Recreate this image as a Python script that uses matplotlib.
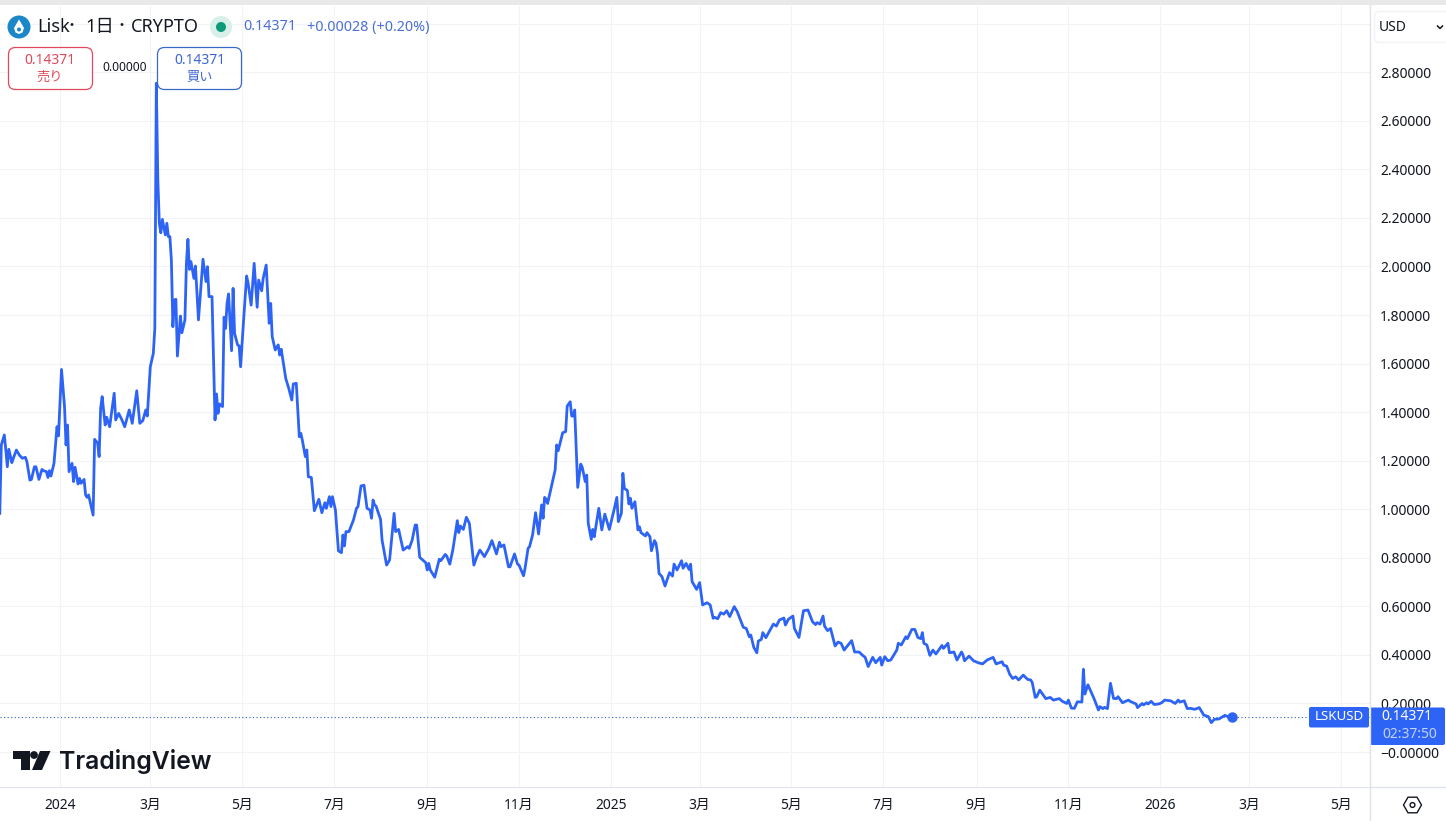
import matplotlib
matplotlib.use("Agg")
import matplotlib.pyplot as plt
from matplotlib.patches import Circle, FancyBboxPatch, Polygon, Rectangle, RegularPolygon

plt.rcParams["font.family"] = ["Noto Sans", "Noto Sans CJK JP", "DejaVu Sans"]

# days since 2024-01-01
days = [-40, -39, -37, -36, -35, -34, -32, -31, -29, -27, -25, -23, -22, -20, -19, -17, -16, -14, -12, -11,
        -9, -8, -7, -6, -4, -2, -1, 1, 3, 4, 5, 6, 8, 9, 10, 12, 13, 14, 16, 17,
        18, 19, 22, 23, 25, 26, 27, 28, 30, 31, 33, 36, 37, 39, 41, 43, 46, 48, 51, 53,
        55, 57, 58, 60, 62, 63, 64, 65, 66, 67, 68, 70, 71, 72, 73, 74, 75, 76, 77, 78,
        80, 81, 83, 84, 85, 86, 87, 89, 90, 92, 95, 97, 98, 99, 101, 103, 104, 105, 106, 108,
        109, 110, 111, 112, 114, 115, 116, 118, 119, 120, 122, 124, 125, 127, 129, 131, 132, 134, 135, 137,
        139, 140, 141, 143, 145, 146, 147, 150, 152, 154, 155, 157, 159, 160, 161, 163, 164, 165, 167, 169,
        172, 174, 176, 177, 179, 180, 181, 183, 185, 187, 188, 189, 190, 192, 195, 197, 198, 200, 202, 204,
        206, 207, 208, 209, 210, 213, 214, 217, 219, 222, 223, 225, 228, 231, 232, 234, 236, 237, 239, 243,
        244, 245, 246, 249, 252, 253, 256, 257, 259, 261, 264, 265, 266, 268, 270, 272, 275, 277, 279, 282,
        285, 287, 290, 292, 293, 295, 298, 299, 302, 304, 305, 308, 309, 311, 312, 314, 316, 318, 320, 321,
        322, 323, 324, 329, 330, 331, 334, 336, 337, 339, 340, 341, 342, 344, 346, 347, 349, 350, 351, 353,
        354, 355, 358, 360, 362, 365, 368, 370, 371, 373, 374, 375, 377, 378, 379, 380, 382, 384, 385, 386,
        389, 390, 392, 393, 395, 396, 397, 398, 400, 402, 405, 407, 408, 410, 413, 414, 416, 418, 419, 420,
        423, 425, 427, 430, 432, 434, 435, 437, 439, 441, 443, 445, 448, 450, 454, 456, 458, 459, 461, 463,
        464, 466, 467, 469, 473, 474, 476, 478, 481, 482, 484, 487, 488, 491, 494, 497, 500, 502, 503, 505,
        507, 508, 510, 512, 515, 517, 519, 521, 526, 528, 531, 533, 535, 537, 540, 542, 545, 546, 548, 550,
        552, 556, 557, 559, 562, 563, 566, 568, 570, 572, 573, 574, 576, 578, 580, 582, 586, 587, 590, 591,
        594, 596, 599, 600, 601, 604, 607, 610, 613, 616, 620, 622, 626, 627, 629, 631, 633, 635, 637, 640,
        643, 645, 646, 648, 649, 651, 655, 658, 660, 664, 666, 669, 670, 672, 674, 676, 679, 680, 681, 683,
        685, 687, 690, 691, 693, 694, 696, 698, 700, 702, 703, 706, 708, 710, 711, 715, 716, 719, 720, 722,
        723, 725, 727, 730, 732, 734, 738, 741, 743, 744, 747, 749, 751, 754, 757, 760, 763, 765, 767, 770,
        774, 776, 779]

prices = [0.983, 1.265, 1.306, 1.244, 1.175, 1.247, 1.192, 1.210, 1.244, 1.223, 1.210, 1.214, 1.196, 1.120, 1.123, 1.175, 1.175, 1.123, 1.164, 1.159,
          1.155, 1.131, 1.159, 1.137, 1.189, 1.340, 1.302, 1.576, 1.423, 1.265, 1.347, 1.155, 1.189, 1.114, 1.173, 1.104, 1.127, 1.107, 1.123, 1.059,
          1.049, 1.059, 0.976, 1.288, 1.272, 1.217, 1.416, 1.464, 1.347, 1.379, 1.340, 1.478, 1.368, 1.395, 1.370, 1.340, 1.409, 1.354, 1.488, 1.354,
          1.365, 1.409, 1.384, 1.587, 1.642, 1.745, 2.755, 2.356, 2.178, 2.139, 2.194, 2.130, 2.178, 2.123, 2.123, 2.027, 1.752, 1.862, 1.865, 1.631,
          1.796, 1.727, 1.780, 2.013, 2.112, 1.988, 2.020, 1.951, 2.002, 1.780, 2.030, 1.938, 1.999, 1.876, 1.876, 1.368, 1.475, 1.395, 1.434, 1.423,
          1.791, 1.745, 1.848, 1.887, 1.653, 1.910, 1.725, 1.677, 1.673, 1.587, 1.780, 1.961, 1.931, 1.841, 2.013, 1.832, 1.944, 1.900, 1.951, 2.006,
          1.766, 1.848, 1.711, 1.656, 1.677, 1.635, 1.659, 1.539, 1.498, 1.450, 1.516, 1.519, 1.299, 1.313, 1.285, 1.217, 1.244, 1.134, 1.131, 0.994,
          1.041, 0.986, 1.027, 1.004, 1.052, 1.011, 1.052, 0.997, 0.829, 0.821, 0.894, 0.849, 0.908, 0.908, 0.956, 1.004, 1.011, 1.096, 1.099, 1.004,
          0.997, 0.963, 1.038, 1.018, 1.013, 0.958, 0.873, 0.770, 0.791, 0.983, 0.908, 0.917, 0.832, 0.846, 0.839, 0.873, 0.935, 0.935, 0.802, 0.780,
          0.750, 0.777, 0.750, 0.720, 0.794, 0.788, 0.814, 0.807, 0.774, 0.832, 0.953, 0.904, 0.931, 0.917, 0.967, 0.942, 0.770, 0.805, 0.832, 0.805,
          0.839, 0.871, 0.816, 0.864, 0.846, 0.853, 0.763, 0.763, 0.816, 0.774, 0.770, 0.726, 0.757, 0.839, 0.846, 0.894, 0.986, 0.898, 1.018, 0.963,
          1.049, 1.041, 1.024, 1.162, 1.265, 1.241, 1.315, 1.320, 1.425, 1.443, 1.384, 1.384, 1.409, 1.090, 1.186, 1.173, 1.114, 1.141, 0.942, 0.876,
          0.917, 0.887, 1.004, 0.915, 0.980, 0.917, 0.994, 1.049, 0.949, 0.983, 1.148, 1.086, 1.077, 1.022, 1.045, 1.004, 1.031, 0.915, 0.928, 0.904,
          0.890, 0.904, 0.887, 0.829, 0.871, 0.860, 0.818, 0.736, 0.722, 0.684, 0.739, 0.725, 0.774, 0.750, 0.788, 0.757, 0.777, 0.752, 0.774, 0.702,
          0.670, 0.698, 0.606, 0.615, 0.606, 0.551, 0.555, 0.549, 0.574, 0.568, 0.582, 0.558, 0.599, 0.578, 0.514, 0.509, 0.475, 0.482, 0.431, 0.409,
          0.457, 0.464, 0.492, 0.471, 0.516, 0.527, 0.519, 0.544, 0.552, 0.523, 0.547, 0.560, 0.509, 0.472, 0.582, 0.585, 0.537, 0.525, 0.533, 0.527,
          0.560, 0.519, 0.500, 0.509, 0.437, 0.453, 0.448, 0.420, 0.459, 0.412, 0.412, 0.400, 0.390, 0.352, 0.390, 0.368, 0.390, 0.358, 0.393, 0.376,
          0.379, 0.420, 0.448, 0.441, 0.475, 0.467, 0.505, 0.505, 0.472, 0.467, 0.492, 0.448, 0.441, 0.398, 0.420, 0.404, 0.439, 0.427, 0.448, 0.409,
          0.412, 0.379, 0.412, 0.400, 0.376, 0.395, 0.376, 0.368, 0.363, 0.379, 0.390, 0.363, 0.372, 0.358, 0.354, 0.321, 0.303, 0.310, 0.297, 0.317,
          0.299, 0.297, 0.286, 0.225, 0.228, 0.255, 0.220, 0.225, 0.214, 0.220, 0.209, 0.200, 0.214, 0.181, 0.180, 0.207, 0.206, 0.341, 0.239, 0.277,
          0.249, 0.221, 0.173, 0.187, 0.179, 0.184, 0.179, 0.283, 0.221, 0.220, 0.228, 0.203, 0.209, 0.214, 0.209, 0.198, 0.183, 0.200, 0.194, 0.203,
          0.198, 0.209, 0.196, 0.198, 0.203, 0.214, 0.211, 0.200, 0.214, 0.206, 0.211, 0.179, 0.180, 0.176, 0.183, 0.152, 0.146, 0.121, 0.135, 0.136,
          0.151, 0.146, 0.14371]

month_days = [0, 60, 121, 182, 244, 305, 366, 425, 486, 547, 609, 670, 731, 790, 851]
month_labels = ["2024", "3月", "5月", "7月", "9月", "11月", "2025", "3月", "5月", "7月", "9月", "11月", "2026", "3月", "5月"]
bold_labels = ["2024", "2025", "2026"]

price_ticks = [3.0, 2.8, 2.6, 2.4, 2.2, 2.0, 1.8, 1.6, 1.4, 1.2, 1.0, 0.8, 0.6, 0.4, 0.2, 0.0]
price_labels = ["", "2.80000", "2.60000", "2.40000", "2.20000", "2.00000", "1.80000", "1.60000", "1.40000",
                "1.20000", "1.00000", "0.80000", "0.60000", "0.40000", "0.20000", "−0.00000"]
last_price = 0.14371

BLUE = "#2d64f5"
GRID = "#f1f3f7"
BORDER = "#e0e3eb"
TEXT = "#131722"
W, H = 1446, 821

fig = plt.figure(figsize=(W / 100, H / 100), dpi=100, facecolor="white")
ax = fig.add_axes([0, (H - 787) / H, 1369.5 / W, (787 - 6) / H])
ax.set_xlim(-39.87, 870.1)
ax.set_ylim(-0.144, 3.073)

ax.plot(days, prices, color=BLUE, lw=2.0, solid_joinstyle="round", zorder=3)
ax.plot(days[-1], prices[-1], "o", color=BLUE, ms=6.5, zorder=4)
ax.axhline(last_price, color="#2c5cc5", lw=0.8, ls=(0, (1, 2.2)), zorder=2)

ax.set_xticks(month_days)
ax.set_xticklabels(month_labels)
ax.set_yticks(price_ticks)
ax.set_yticklabels(price_labels)
ax.yaxis.tick_right()
ax.tick_params(axis="x", length=0, pad=8, labelsize=10, labelcolor=TEXT)
ax.tick_params(axis="y", length=0, pad=7.5, labelsize=10, labelcolor=TEXT)
for lab in ax.get_xticklabels():
    if lab.get_text() in bold_labels:
        lab.set_fontweight("bold")
ax.grid(True, color=GRID, lw=0.75)
ax.set_axisbelow(True)
for side in ["top", "left", "right"]:
    ax.spines[side].set_visible(False)
ax.spines["bottom"].set_color(BORDER)

# overlay in pixels for the TradingView widgets
ui = fig.add_axes([0, 0, 1, 1], facecolor="none")
ui.set_xlim(0, W)
ui.set_ylim(H, 0)
ui.axis("off")

ui.add_patch(Rectangle((0, 0), W, 5, color="#e9e9e9", lw=0))
ui.plot([1369.5, 1369.5], [5, H], color=BORDER, lw=1)
ui.plot([1369.5, W], [787, 787], color=BORDER, lw=1)

# header
ui.add_patch(Circle((19, 27), 11.5, color="#1b87c9", lw=0))
ui.add_patch(Polygon([(19, 19.5), (24, 28), (22.5, 32.5), (19, 34), (15.5, 32.5), (14, 28)], fc="white", lw=0))
ui.add_patch(Circle((19, 29.5), 2, color="#1b87c9", lw=0))
ui.text(37, 27, "Lisk", fontsize=13.2, color=TEXT, va="center", ha="left")
ui.text(71, 27, "・", fontsize=10, color=TEXT, va="center", ha="center")
ui.text(85, 27, "1日", fontsize=13.2, color=TEXT, va="center", ha="left")
ui.text(122, 27, "・", fontsize=10, color=TEXT, va="center", ha="center")
ui.text(131, 27, "CRYPTO", fontsize=13, color=TEXT, va="center", ha="left")
ui.add_patch(Circle((221, 27), 11, color="#d9efea", lw=0))
ui.add_patch(Circle((221, 27), 5, color="#0c9a78", lw=0))
ui.text(243, 27, "0.14371", fontsize=10.3, color="#4a6fd6", va="center", ha="left")
ui.text(307, 27, "+0.00028 (+0.20%)", fontsize=10.3, color="#4a6fd6", va="center", ha="left")

# sell / buy boxes
ui.add_patch(FancyBboxPatch((8.5, 47.5), 84, 42, boxstyle="round,pad=0,rounding_size=7", fc="white", ec="#e2485b", lw=0.9))
ui.text(50, 60, "0.14371", fontsize=10, fontweight="bold", color="#e2485b", ha="center", va="center")
ui.text(50, 77, "売り", fontsize=9.5, color="#e2485b", ha="center", va="center")
ui.text(125, 67.5, "0.00000", fontsize=8.6, color=TEXT, ha="center", va="center")
ui.add_patch(FancyBboxPatch((157.5, 47.5), 84, 42, boxstyle="round,pad=0,rounding_size=7", fc="white", ec="#2c62c4", alpha=0.95, lw=0.9))
ui.text(199.5, 60, "0.14371", fontsize=10, fontweight="bold", color="#3d66d8", ha="center", va="center")
ui.text(199.5, 77, "買い", fontsize=9.5, color="#3d66d8", ha="center", va="center")

# currency button
ui.add_patch(FancyBboxPatch((1374.5, 11.5), 90, 31, boxstyle="round,pad=0,rounding_size=5", fc="white", ec=GRID, lw=1))
ui.text(1379, 27.5, "USD", fontsize=10, color=TEXT, va="center", ha="left")
ui.plot([1437.5, 1440, 1442.5], [26, 28.5, 26], color=TEXT, lw=1.1)

# last price labels
ui.add_patch(FancyBboxPatch((1309, 707), 60, 20.5, boxstyle="round,pad=0,rounding_size=2", fc=BLUE, ec="none"))
ui.text(1339, 717, "LSKUSD", fontsize=9.6, color="white", ha="center", va="center")
ui.add_patch(FancyBboxPatch((1370, 707.5), 75, 37.5, boxstyle="round,pad=0,rounding_size=2", fc=BLUE, ec="none"))
ui.text(1407, 717, "0.14371", fontsize=10, fontweight="bold", color="white", ha="center", va="center")
ui.text(1410, 734.5, "02:37:50", fontsize=10, color="#c3d3ff", ha="center", va="center")

# settings icon
ui.add_patch(RegularPolygon((1412.5, 805), 6, radius=9, orientation=0.5236, fc="none", ec=TEXT, lw=1))
ui.add_patch(Circle((1412.5, 805), 2.4, fc="none", ec=TEXT, lw=1))

# TradingView logo
ui.add_patch(Polygon([(13, 751), (30, 751), (30, 770), (21, 770), (21, 759), (13, 759)], fc="#131722", lw=0))
ui.add_patch(Circle((34, 755), 3.9, color="#131722", lw=0))
ui.add_patch(Polygon([(40, 751), (50.5, 751), (42, 770), (32, 770)], fc="#131722", lw=0))
ui.text(59, 761, "TradingView", family=["Inter", "DejaVu Sans"], fontsize=17.8, fontweight="semibold", color="#131722", va="center", ha="left")

fig.savefig("out.png", dpi=100, facecolor="white")
plt.close(fig)
